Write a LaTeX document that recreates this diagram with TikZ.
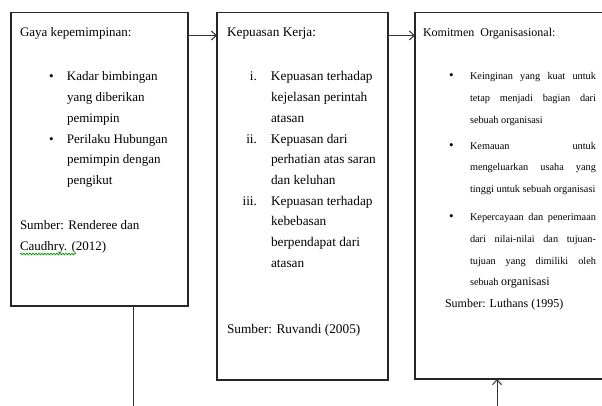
\documentclass[tikz,border=0pt]{standalone}
\usepackage{fontspec}
\setmainfont{Liberation Serif}
\usetikzlibrary{arrows.meta,calc,decorations.pathmorphing}
\newcommand{\bigbul}{{\fontsize{13}{21.7}\selectfont\textbullet}}
\begin{document}
\begin{tikzpicture}[x=1pt,y=-1pt,
  box/.style={draw=black!85,line width=1.4pt,inner sep=0pt,outer sep=0pt,anchor=north west},
  conn/.style={draw=black!80,line width=1pt},
  arr/.style={conn,-{Straight Barb[length=5pt,width=9pt,line width=1pt]}},
  txt/.style={inner sep=0pt,outer sep=0pt,anchor=base west,text=black}]
\clip (0,0) rectangle (602,406);
\fill[white] (0,0) rectangle (602,406);
\useasboundingbox (0,0) rectangle (602,406);
% boxes
\node[box,minimum width=177pt,minimum height=293.5pt] (b1) at (11,12.5) {};
\node[box,minimum width=171pt,minimum height=367.5pt] (b2) at (217,12.5) {};
\node[box,minimum width=200pt,minimum height=366.5pt] (b3) at (415,12.5) {};
% box 1 text
\node[txt] (t1) at (20,37) {\begin{minipage}[t]{170pt}\fontsize{13}{20.8}\selectfont\setlength{\parindent}{0pt}%
Gaya kepemimpinan:\\[23pt]
\hspace*{29pt}\makebox[18pt][l]{\textbullet}Kadar bimbingan\\
\hspace*{47pt}yang diberikan\\
\hspace*{47pt}pemimpin\\
\hspace*{29pt}\makebox[18pt][l]{\textbullet}Perilaku Hubungan\\
\hspace*{47pt}pemimpin dengan\\
\hspace*{47pt}pengikut\\[24.2pt]
Sumber: Renderee dan\\[-0.5pt]
Caudhry. (2012)
\end{minipage}};
\draw[green!60!black,line width=0.7pt,decorate,decoration={snake,amplitude=0.9pt,segment length=3pt}] (20,254) -- (76,254);
% box 2 text
\node[txt] (t2) at (227,37) {\begin{minipage}[t]{160pt}\fontsize{13.3}{20.7}\selectfont\setlength{\parindent}{0pt}%
Kepuasan Kerja:\\[23.3pt]
\makebox[30pt][r]{i.}\hspace*{14pt}Kepuasan terhadap\\
\hspace*{44pt}kejelasan perintah\\
\hspace*{44pt}atasan\\
\makebox[30pt][r]{ii.}\hspace*{14pt}Kepuasan dari\\
\hspace*{44pt}perhatian atas saran\\
\hspace*{44pt}dan keluhan\\
\makebox[30pt][r]{iii.}\hspace*{14pt}Kepuasan terhadap\\
\hspace*{44pt}kebebasan\\
\hspace*{44pt}berpendapat dari\\
\hspace*{44pt}atasan\\[45.3pt]
Sumber: Ruvandi (2005)
\end{minipage}};
% box 3 text
\node[txt] (t3) at (423,37) {\begin{minipage}[t]{175pt}\fontsize{12}{21.7}\selectfont\setlength{\parindent}{0pt}%
Komitmen\ \ Organisasional:\\[21.3pt]
\fontsize{10.3}{21.7}\selectfont
\hspace*{26pt}\makebox[21pt][l]{\bigbul}\makebox[126pt][s]{Keinginan yang kuat untuk}\\
\hspace*{47pt}\makebox[126pt][s]{tetap menjadi bagian dari}\\
\hspace*{47pt}sebuah organisasi\\[4pt]
\hspace*{26pt}\makebox[21pt][l]{\bigbul}\makebox[126pt][s]{Kemauan untuk}\\
\hspace*{47pt}\makebox[126pt][s]{mengeluarkan usaha yang}\\
\hspace*{47pt}tinggi untuk sebuah organisasi\\[6.5pt]
\hspace*{26pt}\makebox[21pt][l]{\bigbul}\makebox[126pt][s]{Kepercayaan dan penerimaan}\\
\hspace*{47pt}\makebox[126pt][s]{dari nilai-nilai dan tujuan-}\\
\hspace*{47pt}\makebox[126pt][s]{tujuan yang dimiliki oleh}\\[-0.4pt]
\hspace*{47pt}sebuah {\fontsize{12}{21.7}\selectfont organisasi}\\
\fontsize{12}{21.7}\selectfont
\hspace*{22pt}Sumber: Luthans (1995)
\end{minipage}};
% connectors
\coordinate (e1) at (133,406);
\coordinate (e3) at (497,406);
\draw[arr] ($(b1.north east)+(0,23)$) -- ($(b2.north west)+(0,23)$);
\draw[arr] ($(b2.north east)+(0,23)$) -- ($(b3.north west)+(0,23)$);
\draw[conn] ($(b1.south west)+(122,0)$) -- (e1);
\draw[arr] (e3) -- ($(b3.south west)+(82,0)$);
\end{tikzpicture}
\end{document}
